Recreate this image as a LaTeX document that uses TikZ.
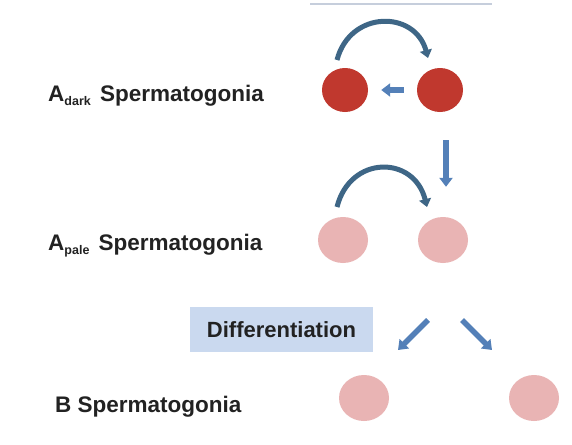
\documentclass[tikz,border=0pt]{standalone}
\usepackage{fontspec}
\setmainfont{Liberation Sans}
\usetikzlibrary{shapes.geometric,arrows.meta}
\definecolor{darkcell}{RGB}{192,56,46}
\definecolor{palecell}{RGB}{233,180,180}
\definecolor{arrblue}{RGB}{84,128,184}
\definecolor{curvblue}{RGB}{62,102,134}
\definecolor{boxblue}{RGB}{202,217,239}
\definecolor{topline}{RGB}{198,206,220}
\definecolor{txt}{RGB}{34,34,34}
\tikzset{
  cell/.style={ellipse, draw=none, inner sep=0pt},
  darkc/.style={cell, fill=darkcell, minimum width=46pt, minimum height=44pt},
  palec/.style={cell, fill=palecell, minimum width=50pt, minimum height=46pt},
  lab/.style={anchor=base west, inner sep=0pt, text=txt, font=\fontsize{22.5}{24}\selectfont\bfseries},
  straightarr/.style={draw=arrblue, line width=5.5pt, -{Triangle[length=9pt,width=13pt]}},
  curvarr/.style={draw=curvblue, line width=5pt, -{Triangle[length=8pt,width=12pt]}},
  diffbox/.style={fill=boxblue, draw=none, minimum width=183pt, minimum height=45pt, inner sep=0pt, text=txt, font=\fontsize{22}{24}\selectfont\bfseries}
}
\newcommand{\subtxt}[1]{\raisebox{-4pt}{\fontsize{12.5}{13}\selectfont #1}}
\begin{document}
\begin{tikzpicture}[x=1pt,y=-1pt]
\useasboundingbox (0,0) rectangle (572,444);
\fill[white] (0,0) rectangle (572,444);
% faint line at top
\draw[topline, line width=2.5pt] (310,4) -- (492,4);
% labels
\node[lab] (ldark) at (48,101) {A\subtxt{dark}\hspace{3pt}\ Spermatogonia};
\node[lab] (lpale) at (48,250) {A\subtxt{pale}\hspace{3pt}\ Spermatogonia};
\node[lab] (lb) at (55,412) {B Spermatogonia};
% cells
\node[darkc] (d1) at (345,90) {};
\node[darkc] (d2) at (440,90) {};
\node[palec] (p1) at (343,240) {};
\node[palec] (p2) at (443,240) {};
\node[palec] (b1) at (364,398) {};
\node[palec] (b2) at (534,398) {};
% differentiation box
\node[diffbox] (diff) at (281.5,329.5) {Differentiation};
% arrows, dark row
\draw[curvarr] ([shift={(-8,-30)}]d1.center) .. controls +(13,-50) and +(-13,-48) .. ([shift={(-12,-32)}]d2.center);
\draw[straightarr, shorten <=13pt, shorten >=13pt] (d2.west) -- (d1.east);
\draw[straightarr, shorten <=28pt, shorten >=30pt] ([xshift=6pt]d2.south) -- ([xshift=3pt]p2.north);
% arrows, pale row
\draw[curvarr] ([shift={(-6,-33)}]p1.center) .. controls +(13,-52) and +(-13,-52) .. ([shift={(-16,-33)}]p2.center);
% differentiation arrows
\coordinate (fl) at (428,320);
\coordinate (fr) at (462,320);
\draw[straightarr] (fl) -- (398,350);
\draw[straightarr] (fr) -- (492,350);
\end{tikzpicture}
\end{document}
